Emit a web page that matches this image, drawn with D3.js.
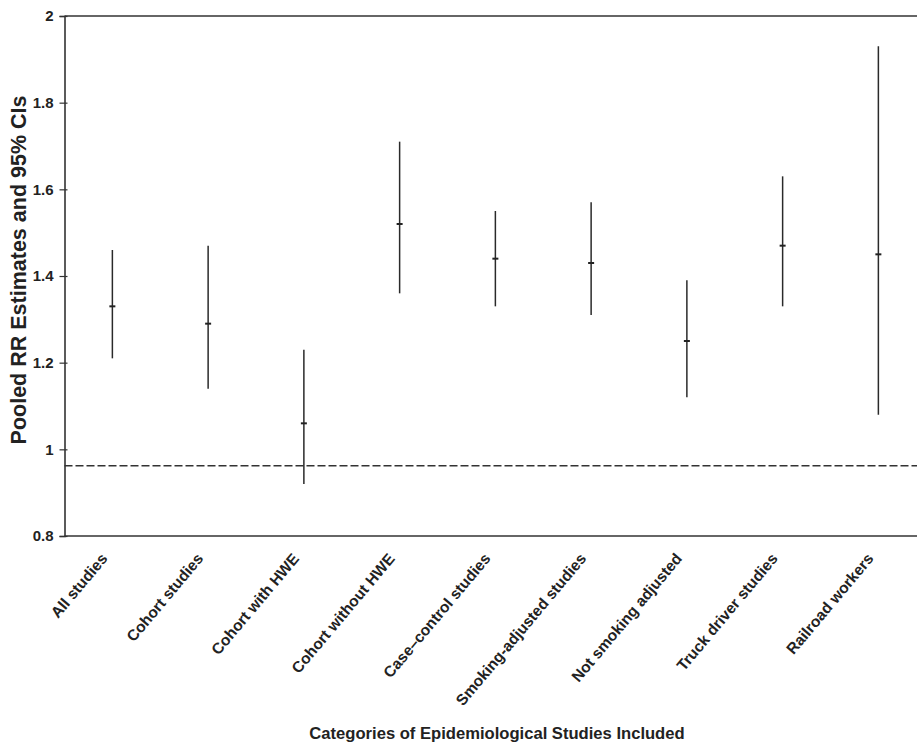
<!DOCTYPE html>
<html>
<head>
<meta charset="utf-8">
<script src="https://cdn.jsdelivr.net/npm/d3@7"></script>
<style>
  html, body { margin: 0; padding: 0; background: #fff; }
  svg { display: block; }
  text { font-family: "Liberation Sans", Arial, sans-serif; font-weight: bold; fill: #222; }
</style>
</head>
<body>
<div id="chart"></div>
<script>
const categories = ["All studies", "Cohort studies", "Cohort with HWE", "Cohort without HWE",
  "Case–control studies", "Smoking-adjusted studies", "Not smoking adjusted",
  "Truck driver studies", "Railroad workers"];
const estimates = [1.33, 1.29, 1.06, 1.52, 1.44, 1.43, 1.25, 1.47, 1.45];
const lowerCI  = [1.21, 1.14, 0.92, 1.36, 1.33, 1.31, 1.12, 1.33, 1.08];
const upperCI  = [1.46, 1.47, 1.23, 1.71, 1.55, 1.57, 1.39, 1.63, 1.93];
const yTicks = [0.8, 1, 1.2, 1.4, 1.6, 1.8, 2];
const yTickLabels = ["0.8", "1", "1.2", "1.4", "1.6", "1.8", "2"];
const referenceValue = 0.962;
const yTitle = "Pooled RR Estimates and 95% CIs";
const xTitle = "Categories of Epidemiological Studies Included";

const W = 917, H = 747;
const mLeft = 64.5, mTop = 16, mBottom = 536;
const stepW = 95.75;

const svg = d3.select("#chart").append("svg").attr("width", W).attr("height", H);

const x = d3.scalePoint().domain(categories).range([mLeft, mLeft + stepW * categories.length]).padding(0.5);
const y = d3.scaleLinear().domain([0.8, 2]).range([mBottom, mTop]);

// top border
svg.append("line").attr("x1", mLeft).attr("x2", W).attr("y1", y(2)).attr("y2", y(2))
  .attr("stroke", "#333").attr("stroke-width", 1.4);
// bottom axis line
svg.append("line").attr("x1", mLeft).attr("x2", W).attr("y1", y(0.8)).attr("y2", y(0.8))
  .attr("stroke", "#333").attr("stroke-width", 1.6);

// y axis
const yAxis = d3.axisLeft(y).tickValues(yTicks).tickSize(5).tickPadding(6)
  .tickFormat((d, i) => yTickLabels[i]);
const gy = svg.append("g").attr("transform", `translate(${mLeft},0)`).call(yAxis);
gy.select(".domain").attr("stroke", "#333").attr("stroke-width", 1.6);
gy.selectAll(".tick line").attr("x1", 3).attr("stroke", "#333").attr("stroke-width", 1.2);
gy.selectAll(".tick text").style("font-size", "15px").attr("fill", "#222");

// reference dashed line
svg.append("line").attr("x1", mLeft).attr("x2", W)
  .attr("y1", y(referenceValue)).attr("y2", y(referenceValue))
  .attr("stroke", "#333").attr("stroke-width", 1.4).attr("stroke-dasharray", "8,3");

// CI lines
const g = svg.append("g");
g.selectAll("line.ci").data(categories).join("line").attr("class", "ci")
  .attr("x1", d => x(d)).attr("x2", d => x(d))
  .attr("y1", (d, i) => y(upperCI[i])).attr("y2", (d, i) => y(lowerCI[i]))
  .attr("stroke", "#2a2a2a").attr("stroke-width", 1.5);
g.selectAll("line.est").data(categories).join("line").attr("class", "est")
  .attr("x1", d => x(d) - 3).attr("x2", d => x(d) + 3)
  .attr("y1", (d, i) => y(estimates[i])).attr("y2", (d, i) => y(estimates[i]))
  .attr("stroke", "#222").attr("stroke-width", 2);

// x labels
svg.selectAll("text.xl").data(categories).join("text").attr("class", "xl")
  .attr("transform", d => `translate(${x(d) - 4},559) rotate(-50)`)
  .attr("text-anchor", "end").style("font-size", "15.5px").text(d => d);

// titles
svg.append("text").attr("transform", `translate(26,270) rotate(-90)`)
  .attr("text-anchor", "middle").style("font-size", "21.5px").text(yTitle);
svg.append("text").attr("x", 497).attr("y", 739)
  .attr("text-anchor", "middle").style("font-size", "16.6px").text(xTitle);
</script>
</body>
</html>
